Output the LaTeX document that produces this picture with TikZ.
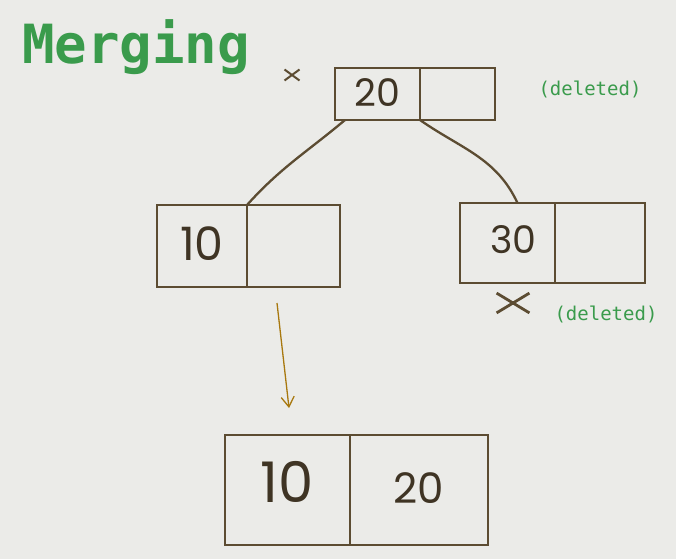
\documentclass[tikz,border=0pt]{standalone}
\usepackage{fontspec}
\setmonofont{DejaVu Sans Mono}
\setsansfont{Poppins}
\usepackage{tikz}
\usetikzlibrary{positioning,arrows.meta,shapes.misc}
\definecolor{board}{HTML}{EBEBE8}
\definecolor{marker}{HTML}{5C4C32}
\definecolor{ink}{HTML}{3F3424}
\definecolor{titlegreen}{HTML}{3A9B4C}
\definecolor{arrowgold}{HTML}{A8780E}

\begin{document}
\begin{tikzpicture}[x=1pt,y=-1pt,
        cell/.style={draw=marker, line width=2.6pt, inner sep=0pt, outer sep=0pt,
                     anchor=north west, font=\sffamily, text=ink},
        edge/.style={marker, line width=2.3pt},
        crossmark/.style={draw=marker, cross out, inner sep=0pt},
        note/.style={font=\ttfamily\fontsize{19}{19}\selectfont, text=titlegreen}]
                \fill[board] (0,0) rectangle (676,559);
                \useasboundingbox (0,0) rectangle (676,559);
                \node[anchor=base west, font=\ttfamily\bfseries\fontsize{54}{54}\selectfont,
                      text=titlegreen, inner sep=0pt] (title) at (22,64) {Merging};
                % node to delete
                \node[cell, minimum width=85pt, minimum height=52pt,
                      font=\sffamily\fontsize{38}{38}\selectfont] (t20) at (335,68) {\raisebox{3pt}{20}};
                \node[cell, minimum width=75pt, minimum height=52pt, right=0pt of t20] (t20b) {};
                \node[crossmark, line width=2pt, minimum width=13pt, minimum height=9pt] (tx) at (292,75) {};
                \node[note] (tdel) at (590,89) {(deleted)};
                % children
                \node[cell, minimum width=90pt, minimum height=82pt,
                      font=\sffamily\fontsize{46}{46}\selectfont] (l10) at (157,205) {\raisebox{5pt}{10}};
                \node[cell, minimum width=93pt, minimum height=82pt, right=0pt of l10] (l10b) {};
                \node[cell, minimum width=95pt, minimum height=80pt,
                      font=\sffamily\fontsize{38}{38}\selectfont] (r30) at (460,203) {\hspace{12pt}\raisebox{7pt}{30}};
                \node[cell, minimum width=90pt, minimum height=80pt, right=0pt of r30] (r30b) {};
                \node[crossmark, line width=2.8pt, minimum width=30pt, minimum height=17pt] (rx) at (513,303) {};
                \node[note] (rdel) at (606,314) {(deleted)};
                \draw[edge] ([xshift=10pt]t20.south west) to[out=-140,in=48] (l10.north east);
                \draw[edge] (t20.south east) to[out=-35,in=115] ([xshift=10pt]r30.north);
                % merged node
                \node[cell, minimum width=125pt, minimum height=110pt,
                      font=\sffamily\fontsize{56}{56}\selectfont] (m10) at (225,435) {\raisebox{16pt}{10}\hspace{16pt}};
                \node[cell, minimum width=138pt, minimum height=110pt, right=0pt of m10,
                      font=\sffamily\fontsize{42}{42}\selectfont] (m20) {\raisebox{4pt}{20}\hspace{22pt}};
                \coordinate (mtop) at ([xshift=-61pt,yshift=27pt]m10.north east);
                \draw[arrowgold, line width=1.3pt, -{Straight Barb[length=10pt,width=13pt]}]
                      ([xshift=30pt,yshift=-16pt]l10.south east) -- (mtop);
            \end{tikzpicture}
\end{document}
